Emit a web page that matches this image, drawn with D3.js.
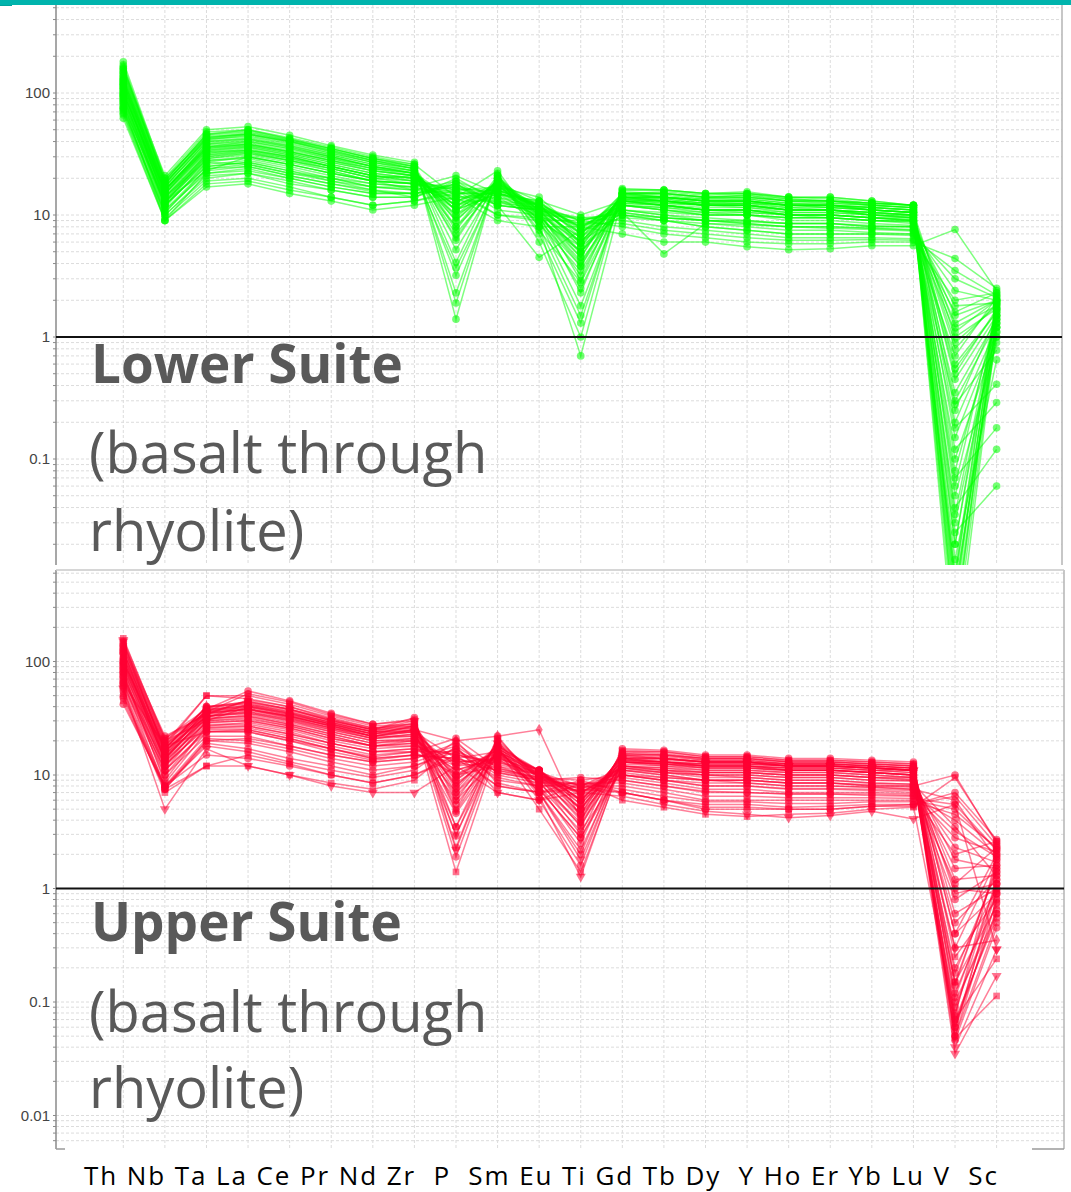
<!DOCTYPE html>
<html>
<head>
<meta charset="utf-8">
<script src="https://cdn.jsdelivr.net/npm/d3@7"></script>
<style>
  html, body { margin: 0; padding: 0; background: #fff; }
  svg { display: block; }
</style>
</head>
<body>
<svg id="chart" width="1071" height="1192"></svg>
<script>
// Element order of the spider diagram (primitive-mantle normalised)
const categories = ["Th","Nb","Ta","La","Ce","Pr","Nd","Zr","P","Sm","Eu","Ti","Gd","Tb","Dy","Y","Ho","Er","Yb","Lu","V","Sc"];

// Lower Suite samples, one row per sample, values in category order
const lowerSuite = [
  [62, 9, 17, 18, 15, 13, 11, 12, 14, 9, 8, 8, 7, 6, 6, 5.5, 5.2, 5.3, 5.6, 5.6, 7.6, 2.4],
  [68, 9.5, 19, 20, 17, 14, 12, 13, 16, 10, 9, 9, 8, 7, 6.5, 6, 5.8, 5.8, 6, 6, 4.4, 2.5],
  [72, 10, 21, 22, 19, 16, 14, 14, 18, 11, 10, 9.5, 9, 8, 7.5, 7, 6.5, 6.5, 6.5, 6.4, 3.5, 2.2],
  [75, 11, 22, 23, 20, 17, 15, 15, 17, 12, 11, 8.5, 10, 9, 8, 7.5, 7, 7, 7, 7, 3.0, 2.1],
  [70, 10.5, 24, 25, 21, 18, 16, 14, 20, 13, 12, 9, 11, 10, 9, 8.5, 8, 7.8, 7.6, 7.4, 2.4, 2.0],
  [80, 12, 25, 27, 23, 19, 17, 16, 19, 14, 12, 8, 12, 11, 10, 10, 9, 9, 8.5, 8.2, 1.8, 1.9],
  [85, 11.5, 27, 26, 22, 20, 18, 17, 21, 15, 13, 10, 13, 12, 11, 11, 10, 9.5, 9, 8.8, 1.5, 2.0],
  [78, 13, 23, 30, 26, 22, 19, 16, 15, 15, 13, 7.5, 14, 13, 12, 12, 11, 11, 10, 9.5, 1.2, 1.8],
  [88, 12.5, 30, 33, 28, 24, 20, 18, 16, 17, 14, 7, 15, 14, 13, 13, 12, 12, 11, 10.5, 1.0, 1.7],
  [92, 14, 28, 29, 25, 21, 18, 17, 14, 14, 11, 6.5, 12, 11, 10, 10, 9.5, 9.5, 9, 9, 0.8, 1.9],
  [95, 13, 32, 35, 30, 25, 21, 19, 13, 16, 12, 6, 13, 12, 11, 11, 10, 10, 9.5, 9.5, 0.6, 1.6],
  [100, 15, 34, 36, 31, 26, 22, 20, 12, 17, 12, 5.5, 14, 13, 12, 12, 11, 11, 10, 10, 0.45, 1.5],
  [105, 14, 30, 32, 28, 24, 20, 21, 11, 15, 11, 5, 12, 11, 10.5, 10, 9.5, 9.5, 9, 8.8, 0.35, 1.4],
  [98, 16, 36, 38, 33, 28, 24, 22, 13, 18, 13, 6.5, 15, 14, 13, 13, 12, 12, 11.5, 11, 0.3, 1.3],
  [110, 15.5, 38, 40, 35, 30, 25, 22, 10, 19, 11, 4.5, 15, 15, 14, 14, 13, 13, 12, 11.5, 0.2, 1.2],
  [115, 17, 40, 42, 37, 31, 26, 23, 9, 19, 10, 4, 14, 14, 13, 13, 12, 12, 11, 10.5, 0.15, 1.1],
  [90, 12, 26, 28, 24, 20, 17, 16, 17, 13, 11, 8, 11, 10, 9.5, 9, 8.5, 8.5, 8, 8, 1.3, 2.0],
  [102, 13.5, 29, 31, 27, 23, 19, 18, 15, 15, 12, 7, 12.5, 12, 11, 11, 10, 10, 9.5, 9.2, 0.9, 1.8],
  [120, 16, 35, 37, 32, 27, 23, 21, 8, 17, 10, 3.8, 13, 13, 12, 12, 11, 11, 10.5, 10, 0.1, 1.0],
  [108, 14.5, 33, 34, 29, 25, 21, 20, 12, 16, 12, 5.8, 13.5, 12.5, 12, 11.5, 11, 11, 10, 9.8, 0.55, 1.6],
  [125, 17.5, 42, 44, 38, 32, 27, 24, 6.2, 20, 11, 2.9, 16, 16, 15, 15, 14, 13.5, 12.5, 12, 0.05, 0.9],
  [130, 18, 44, 46, 40, 34, 28, 25, 4.1, 21, 10, 2.3, 15, 15, 14, 14.5, 13, 13, 12, 11.5, 0.03, 1.2],
  [135, 16, 37, 39, 34, 29, 24, 22, 3.7, 18, 9, 1.8, 14, 14, 13, 13, 12, 12, 11.5, 11, 0.02, 1.5],
  [140, 19, 45, 48, 41, 35, 29, 25, 2.3, 20, 8, 1.5, 15, 15.5, 14.5, 15, 13.5, 13, 12.5, 12, 0.008, 1.1],
  [150, 20, 48, 50, 43, 36, 30, 26, 1.9, 21, 7, 1.3, 16, 16, 15, 15.5, 14, 14, 13, 12, 0.005, 1.4],
  [160, 21, 50, 53, 45, 37, 31, 27, 1.4, 22, 6, 1.0, 16.5, 16, 15, 15, 14, 14, 13, 12, 0.004, 1.7],
  [170, 19, 46, 50, 42, 35, 29, 26, 14, 23, 8, 0.7, 14, 13, 12, 12.5, 11.5, 11.5, 11, 10.5, 0.006, 2.0],
  [180, 20, 43, 47, 41, 34, 28, 24, 5.2, 19, 9, 2.5, 13, 12.5, 12, 12, 11, 11, 10.5, 10, 0.01, 2.2],
  [145, 17, 39, 42, 36, 30, 25, 23, 7, 18, 8.5, 3.5, 12.5, 12, 11, 11, 10.5, 10.5, 10, 9.5, 0.015, 0.65],
  [155, 18.5, 41, 45, 39, 32, 27, 24, 3.2, 19, 7.5, 2.8, 13, 13, 12.5, 13, 12, 12, 11, 10.5, 0.025, 0.06],
  [128, 15, 33, 36, 31, 26, 22, 20, 10, 16, 10, 4.2, 12, 11.5, 11, 11, 10, 10, 9.5, 9, 0.04, 0.12],
  [118, 14, 31, 34, 30, 25, 21, 19, 11, 15, 9.5, 5, 11, 10.5, 10, 10, 9.5, 9.5, 9, 8.5, 0.07, 0.18],
  [112, 13, 28, 30, 26, 22, 19, 18, 12, 14, 9, 5.5, 10, 9.5, 9, 9, 8.5, 8.5, 8, 8, 0.12, 0.29],
  [96, 12, 25, 27, 23, 20, 17, 17, 13, 13, 10, 6, 10.5, 9.5, 9, 8.8, 8.5, 8.5, 8.2, 8, 0.18, 0.41],
  [84, 11, 24, 26, 22, 19, 16, 15, 16, 12, 4.5, 7.5, 9.5, 9, 8.5, 8.3, 8, 8, 7.8, 7.6, 0.28, 0.78],
  [132, 16.5, 36, 40, 35, 29, 25, 22, 9, 18, 11, 4.8, 14.5, 14, 13.5, 13.5, 12.5, 12.5, 12, 11.5, 0.009, 1.0],
  [165, 18, 42, 46, 40, 33, 27, 23, 6.5, 20, 9.5, 3.2, 14, 14, 13, 13.5, 12.5, 12, 11.5, 11, 0.003, 1.3],
  [76, 10, 20, 22, 18, 16, 14, 14, 19, 12, 11, 9.5, 10, 9, 8, 7.5, 7, 7, 7, 6.8, 1.6, 2.3],
  [82, 9, 22, 24, 20, 17, 15, 15, 18, 12.5, 11.5, 9, 10.5, 4.8, 8.5, 8, 7.5, 7.5, 7.2, 7, 0.7, 2.1],
  [122, 15, 35, 38, 33, 28, 24, 21, 11, 18, 12, 6, 14, 13.5, 12.5, 12.5, 12, 11.5, 11, 10.5, 0.012, 1.9],
  [66, 9, 18, 19, 16, 14, 12, 13, 15, 10, 9.5, 8.5, 8.5, 7.5, 7, 6.5, 6.2, 6.2, 6.3, 6.2, 2.0, 2.3],
  [88, 12, 29, 32, 28, 23, 19, 18, 17, 15, 12.5, 8, 13, 12, 11, 10.5, 10, 10, 9.5, 9, 0.5, 1.7],
  [100, 14, 32, 34, 30, 25, 21, 20, 15, 16, 12, 7, 13.5, 13, 12, 12, 11, 11, 10.5, 10, 0.25, 1.5],
  [112, 15, 36, 38, 33, 28, 23, 21, 13, 17, 11.5, 6, 14, 13.5, 12.5, 12.5, 12, 11.5, 11, 10.5, 0.08, 1.4],
  [118, 16, 38, 41, 36, 30, 25, 22, 11, 18, 11, 5.5, 14.5, 14, 13, 13, 12, 12, 11.5, 11, 0.035, 1.6],
  [138, 17, 40, 43, 37, 31, 26, 23, 9.5, 19, 10.5, 5, 15, 14.5, 13.5, 14, 13, 12.5, 12, 11.5, 0.007, 1.8],
  [148, 18, 43, 46, 40, 33, 28, 24, 8, 20, 10, 4.5, 15.5, 15, 14, 14.5, 13.5, 13, 12.5, 12, 0.004, 1.5],
  [158, 19, 46, 49, 42, 35, 29, 25, 7.5, 21, 9, 3.8, 15, 15, 14, 14, 13, 13, 12.5, 12, 0.002, 1.2],
  [106, 13, 27, 30, 26, 22, 19, 18, 14, 15, 12, 7.2, 12, 11.5, 10.5, 10.5, 10, 10, 9.5, 9, 0.011, 1.3],
  [94, 12.5, 31, 33, 29, 24, 20, 19, 16, 16, 12.5, 7.8, 13, 12, 11.5, 11.5, 10.5, 10.5, 10, 9.5, 0.02, 1.9],
  [126, 16, 34, 37, 32, 27, 23, 21, 12, 17, 11, 6.5, 13.5, 13, 12, 12, 11.5, 11, 10.5, 10, 0.06, 1.7],
  [74, 10.5, 23, 25, 21, 18, 15.5, 15, 18, 12, 11, 9, 10.5, 9.5, 9, 8.5, 8, 8, 7.8, 7.5, 1.1, 2.0]
];

// Upper Suite samples, one row per sample, values in category order
const upperSuite = [
  [45, 7.5, 12, 12, 10, 8.5, 7.5, 9, 18, 7, 6, 8.5, 6, 5.2, 4.5, 4.3, 4.5, 4.6, 5, 5.2, 9.5, 2.6],
  [50, 8, 18, 16, 13, 11, 9.5, 11, 20, 8.5, 7, 9, 7, 6, 5, 5, 5, 5, 5.3, 5.5, 6.5, 2.4],
  [55, 7.5, 20, 19, 16, 13, 11, 12, 16, 9.5, 8, 8, 8, 7, 6, 6, 6, 6, 6, 6, 5, 2.2],
  [60, 10, 22, 22, 18, 15, 13, 14, 19, 10.5, 9, 9.5, 9, 8, 7, 7, 6.8, 6.8, 6.6, 6.5, 4, 2.0],
  [65, 11, 25, 25, 21, 17, 14, 15, 14, 11, 9.5, 7.5, 10, 9, 8, 8, 7.5, 7.5, 7.3, 7, 3.2, 1.9],
  [70, 12, 28, 28, 24, 19, 16, 17, 12, 13, 10, 7, 11, 10, 9, 9, 8.5, 8.5, 8, 7.8, 2.3, 1.7],
  [75, 13, 30, 32, 27, 22, 18, 19, 11, 14, 11, 6.5, 12, 11, 10, 10, 9.5, 9.5, 9, 8.8, 1.8, 1.5],
  [80, 14, 33, 35, 30, 24, 20, 21, 10, 15, 11, 6, 13, 12, 11, 11, 10.5, 10.5, 10, 9.5, 1.2, 1.3],
  [85, 15, 36, 38, 32, 26, 22, 22, 9, 16, 11, 5.5, 14, 13, 12, 12, 11, 11, 10.5, 10, 0.9, 1.1],
  [90, 16, 38, 41, 35, 28, 24, 24, 8, 17, 11, 5, 15, 14, 13, 13, 12, 12, 11.5, 11, 0.6, 1.0],
  [95, 17, 40, 44, 38, 30, 25, 26, 7, 18, 11, 4.5, 15.5, 15, 13.5, 13.5, 12.5, 12.5, 12, 11.5, 0.4, 0.9],
  [100, 18, 50, 47, 40, 32, 26, 27, 6, 19, 10, 4, 16, 15.5, 14, 14, 13, 13, 12.5, 12, 0.25, 0.8],
  [110, 19, 50, 50, 42, 33, 27, 28, 5, 20, 9.5, 3.5, 16.5, 16, 14.5, 14.5, 13.5, 13.5, 13, 12.5, 0.15, 0.7],
  [120, 20, 36, 52, 44, 34, 28, 30, 3.5, 21, 9, 3, 17, 16.5, 15, 15, 14, 14, 13.5, 13, 0.1, 0.6],
  [130, 21, 38, 55, 45, 35, 28, 31, 2.9, 22, 8, 2.5, 16, 16, 14.5, 14.5, 13.5, 13.5, 13, 12.5, 0.07, 0.55],
  [140, 22, 34, 46, 40, 31, 25, 32, 2.3, 20, 7, 2, 15, 15, 14, 14, 13, 13, 12.5, 12, 0.05, 0.5],
  [150, 19, 32, 42, 36, 29, 24, 29, 1.9, 18, 6, 1.6, 14, 14, 13, 13, 12.5, 12.5, 12, 11.5, 0.046, 0.45],
  [160, 20, 30, 40, 35, 28, 23, 27, 1.4, 17, 5, 1.4, 13, 13, 12, 12, 11.5, 11.5, 11, 11, 0.048, 0.113],
  [155, 21, 35, 45, 38, 30, 25, 30, 2.2, 19, 6.5, 1.27, 14, 14, 13, 13, 12, 12, 11.5, 11, 0.035, 0.17],
  [58, 5, 17, 12, 10, 8, 7, 7, 12, 7, 6, 7, 6.5, 5.5, 4.8, 4.5, 4.2, 4.4, 4.8, 4.1, 5.5, 0.29],
  [110, 17, 40, 42, 36, 29, 24, 25, 20, 22, 25, 4, 14, 13, 12, 12, 11, 11, 10.5, 10, 0.3, 0.35],
  [42, 8, 15, 14, 12, 10, 8.5, 10, 15, 8, 7, 8, 7, 6, 5.5, 5.5, 5.2, 5.3, 5.5, 5.5, 7, 2.7],
  [48, 7.5, 19, 17, 14, 12, 10, 12, 17, 9, 8, 8.5, 7.5, 6.5, 5.8, 5.8, 5.6, 5.6, 5.8, 5.8, 4.5, 2.3],
  [62, 11, 24, 24, 20, 16, 13.5, 15, 13, 11, 9, 7, 9.5, 8.5, 7.5, 7.5, 7, 7, 7, 6.8, 2.8, 2.1],
  [68, 12, 27, 29, 25, 20, 17, 18, 15, 13, 10.5, 8, 11.5, 10.5, 9.5, 9.5, 9, 9, 8.5, 8.3, 1.5, 1.6],
  [78, 10, 26, 26, 22, 18, 15, 16, 10, 12, 9, 6, 10, 9, 8.5, 8.5, 8, 8, 7.8, 7.5, 0.8, 1.4],
  [88, 14, 34, 37, 32, 26, 21, 22, 8.5, 15, 10, 5, 13, 12.5, 11.5, 11.5, 11, 11, 10.5, 10, 0.5, 1.2],
  [98, 15, 31, 34, 29, 24, 20, 20, 7, 15, 9, 4.5, 12, 11.5, 11, 11, 10.5, 10.5, 10, 9.5, 0.2, 1.0],
  [105, 16, 33, 36, 31, 25, 21, 23, 5.5, 16, 8.5, 3.8, 12.5, 12, 11.5, 11.5, 11, 11, 10.5, 10, 0.12, 0.9],
  [115, 13, 29, 30, 26, 21, 18, 19, 6, 14, 8, 3.2, 11, 10.5, 10, 10, 9.5, 9.5, 9, 9, 0.09, 0.75],
  [125, 14, 31, 33, 28, 23, 19, 21, 4.6, 15, 7.5, 2.8, 11.5, 11, 10.5, 10.5, 10, 10, 9.5, 9.5, 0.06, 0.65],
  [135, 17, 37, 39, 33, 27, 22, 25, 3.5, 17, 7, 2.2, 13, 12.5, 12, 12, 11.5, 11.5, 11, 10.5, 0.055, 1.1],
  [72, 12.5, 26, 27, 23, 19, 16, 16, 16, 12, 10, 8, 10.5, 9.5, 9, 8.5, 8, 8, 7.8, 7.5, 6, 1.8],
  [82, 13.5, 29, 30, 26, 21, 18, 18, 13, 13.5, 10, 7, 11.5, 10.5, 10, 9.5, 9, 9, 8.5, 8.3, 3.5, 1.3],
  [92, 14.5, 32, 33, 28, 23, 19, 20, 11, 14.5, 10, 6.2, 12, 11, 10.5, 10.5, 10, 10, 9.5, 9, 1.0, 0.9],
  [52, 7, 12, 15, 12.5, 10, 8.5, 10, 14, 8, 7, 7.5, 7, 6, 5.2, 5.2, 5, 5, 5.3, 5.3, 0.07, 0.24],
  [150, 16, 35, 38, 33, 27, 23, 24, 3, 17, 7, 1.8, 13.5, 13, 12.5, 12.5, 12, 12, 11.5, 11, 0.04, 0.29],
  [64, 18, 24, 25, 21, 17, 14.5, 16, 21, 11.5, 9.5, 9, 10, 9.5, 9, 9, 8.5, 8.5, 8, 8, 10, 2.5],
  [100, 16, 35, 38, 33, 27, 22, 24, 14, 16, 11, 6, 14, 13.5, 13, 13, 12, 12, 11.5, 11, 0.4, 2.0],
  [118, 18, 39, 43, 37, 30, 25, 27, 9, 18, 10.5, 5, 15, 14.5, 13.5, 13.5, 12.5, 12.5, 12, 11.5, 0.14, 1.6],
  [58, 8, 21, 20, 17, 14, 12, 13, 17, 10, 8.5, 8.5, 8.5, 7.5, 6.5, 6.5, 6.3, 6.3, 6.3, 6.2, 5.5, 2.2],
  [74, 9, 27, 27, 23, 19, 16, 17, 15, 12.5, 10, 7.5, 11, 10, 9, 9, 8.5, 8.5, 8.2, 8, 0.3, 1.8],
  [86, 11, 30, 31, 27, 22, 18, 20, 13, 14, 10.5, 6.8, 12, 11.5, 10.5, 10.5, 10, 10, 9.5, 9.2, 0.15, 1.5],
  [96, 12, 33, 35, 30, 25, 21, 23, 12, 15.5, 10.5, 6, 13, 12.5, 11.5, 11.5, 11, 11, 10.5, 10, 0.08, 1.2],
  [108, 13.5, 35, 38, 33, 27, 22, 25, 10, 16.5, 10, 5.2, 13.5, 13, 12.5, 12.5, 12, 12, 11.5, 11, 0.06, 0.95],
  [122, 15, 37, 41, 35, 29, 24, 26, 8, 17.5, 9.5, 4.2, 14.5, 14, 13, 13, 12.5, 12.5, 12, 11.5, 0.05, 0.8],
  [138, 16.5, 33, 36, 31, 26, 22, 24, 6.5, 16, 8.5, 3.6, 13, 12.5, 12, 12, 11.5, 11.5, 11, 10.5, 0.065, 0.6],
  [145, 18, 36, 40, 34, 28, 23, 27, 4.8, 17, 7.5, 2.8, 13.5, 13, 12.5, 12.5, 12, 12, 11.5, 11, 0.075, 1.9],
  [66, 7.8, 20, 21, 18, 15, 13, 14, 18, 10.5, 9, 8.2, 9, 8, 7.2, 7, 6.8, 6.8, 6.8, 6.6, 2.0, 2.6],
  [80, 8.5, 24, 24, 20, 17, 14, 15, 14, 11.5, 9.2, 7.2, 10, 9, 8, 8, 7.6, 7.6, 7.5, 7.3, 1.1, 2.3],
  [102, 14, 38, 40, 34, 28, 23, 25, 9.5, 17, 11, 5.5, 14.5, 14, 13, 13, 12, 12, 11.5, 11, 0.18, 1.4],
  [128, 17, 40, 44, 38, 31, 26, 28, 7.5, 18.5, 10, 4.6, 15.5, 15, 14, 14, 13, 13, 12.5, 12, 0.11, 1.1]
];

// Marker shape of each Upper Suite sample (same order as upperSuite)
const upperMarkers = [
  "square","circle","circle","circle","circle","circle","circle","circle","circle","circle",
  "circle","square","square","circle","circle","circle","circle","square","triangle","triangle",
  "diamond","circle","circle","circle","circle","circle","circle","circle","circle","circle",
  "circle","circle","circle","circle","circle","square","triangle","circle","circle","circle",
  "circle","circle","circle","circle","circle","circle","circle","circle","circle","circle",
  "circle","circle"
];

const lowerTickValues = [100, 10, 1, 0.1];
const upperTickValues = [100, 10, 1, 0.1, 0.01];
const tickLabels = {100: "100", 10: "10", 1: "1", 0.1: "0.1", 0.01: "0.01"};
const lowerTitle = ["Lower Suite", "(basalt through", "rhyolite)"];
const upperTitle = ["Upper Suite", "(basalt through", "rhyolite)"];

const svg = d3.select("#chart");
const gridColor = "#dcdcdc";

const x = d3.scalePoint().domain(categories).range([123.3, 996.6]);

const symbolTypes = {
  circle: d3.symbolCircle,
  square: d3.symbolSquare,
  diamond: d3.symbolDiamond,
  triangle: d3.symbolTriangle
};

function drawPanel(cfg) {
  const { id, left, right, top, bottom, y, data, color, markers, ticks, title, titleY, drawTopBorder } = cfg;
  const g = svg.append("g").attr("class", id);

  // horizontal grid: every 1..9 multiple of each decade
  const gridVals = [];
  for (let e = -3; e <= 3; e++) {
    for (let k = 1; k <= 9; k++) gridVals.push(k * Math.pow(10, e));
  }
  const visible = gridVals.filter(v => y(v) >= top + 1 && y(v) <= bottom - 1);
  g.append("g").selectAll("line").data(visible).join("line")
    .attr("x1", left).attr("x2", right)
    .attr("y1", d => y(d)).attr("y2", d => y(d))
    .attr("stroke", gridColor).attr("stroke-width", 1)
    .attr("stroke-dasharray", "3,2");
  // small ticks on the left axis
  g.append("g").selectAll("line").data(visible).join("line")
    .attr("x1", left - 3).attr("x2", left)
    .attr("y1", d => y(d)).attr("y2", d => y(d))
    .attr("stroke", "#8a8a8a").attr("stroke-width", 1);

  // vertical grid at each element
  g.append("g").selectAll("line").data(categories).join("line")
    .attr("x1", d => x(d)).attr("x2", d => x(d))
    .attr("y1", top).attr("y2", bottom)
    .attr("stroke", gridColor).attr("stroke-width", 1)
    .attr("stroke-dasharray", "3,2");

  // frame
  g.append("line").attr("x1", left).attr("x2", left).attr("y1", top).attr("y2", bottom)
    .attr("stroke", "#8a8a8a").attr("stroke-width", 1.5);
  g.append("line").attr("x1", right).attr("x2", right).attr("y1", top).attr("y2", bottom)
    .attr("stroke", "#b5b5b5").attr("stroke-width", 1.5);
  if (drawTopBorder) {
    g.append("line").attr("x1", left).attr("x2", right).attr("y1", top).attr("y2", top)
      .attr("stroke", "#c8c8c8").attr("stroke-width", 1.5);
  }

  // y tick labels
  g.append("g").selectAll("text").data(ticks).join("text")
    .attr("x", left - 6).attr("y", d => y(d)).attr("dy", "0.35em")
    .attr("text-anchor", "end")
    .style("font-family", "'Liberation Sans', Arial, sans-serif")
    .style("font-size", "15px").attr("fill", "#444")
    .text(d => tickLabels[d]);

  // clip region for the sample profiles
  const clipId = id + "-clip";
  svg.append("clipPath").attr("id", clipId).append("rect")
    .attr("x", left).attr("y", top).attr("width", right - left).attr("height", bottom - top);

  const plot = g.append("g").attr("clip-path", `url(#${clipId})`);
  const line = d3.line().x((d, i) => x(categories[i])).y(d => y(d));

  plot.append("g").selectAll("path").data(data).join("path")
    .attr("d", line)
    .attr("fill", "none").attr("stroke", color)
    .attr("stroke-width", 1.5).attr("stroke-opacity", 0.5);

  const pts = [];
  data.forEach((row, s) => row.forEach((v, i) => pts.push({ s, i, v })));
  plot.append("g").selectAll("path").data(pts).join("path")
    .attr("transform", d => {
      const shape = markers ? markers[d.s] : "circle";
      const rot = shape === "triangle" ? " rotate(180)" : "";
      return `translate(${x(categories[d.i])},${y(d.v)})${rot}`;
    })
    .attr("d", d => {
      const shape = markers ? markers[d.s] : "circle";
      const size = shape === "circle" ? 46 : 44;
      return d3.symbol().type(symbolTypes[shape]).size(size)();
    })
    .attr("fill", color).attr("fill-opacity", 0.55);

  // reference line at unity
  g.append("line").attr("x1", left).attr("x2", right)
    .attr("y1", y(1)).attr("y2", y(1))
    .attr("stroke", "#111").attr("stroke-width", 2);

  // suite caption
  g.append("text").attr("x", 91).attr("y", titleY[0])
    .style("font-family", "'Open Sans', 'Noto Sans', sans-serif")
    .style("font-weight", "700").style("font-size", "53px")
    .attr("fill", "#595959").text(title[0]);
  [1, 2].forEach(k => {
    g.append("text").attr("x", 89).attr("y", titleY[k])
      .style("font-family", "'Open Sans', 'Noto Sans', sans-serif")
      .style("font-size", "56px")
      .attr("fill", "#595959").text(title[k]);
  });
}

// Lower Suite panel
drawPanel({
  id: "lower", left: 56, right: 1062, top: 0, bottom: 565,
  y: d3.scaleLog().domain([0.01, 1000]).range([581, -29]),
  data: lowerSuite, color: "#00ff00", markers: null,
  ticks: lowerTickValues, title: lowerTitle, titleY: [383, 473, 551],
  drawTopBorder: false
});

// Upper Suite panel
drawPanel({
  id: "upper", left: 56, right: 1064, top: 570, bottom: 1149,
  y: d3.scaleLog().domain([0.001, 1000]).range([1229, 548]),
  data: upperSuite, color: "#ff0033", markers: upperMarkers,
  ticks: upperTickValues, title: upperTitle, titleY: [941, 1032, 1108],
  drawTopBorder: true
});

// lower axis: only the corner stubs show
svg.append("line").attr("x1", 56).attr("x2", 65).attr("y1", 1149).attr("y2", 1149)
  .attr("stroke", "#9a9a9a").attr("stroke-width", 1.5);
svg.append("line").attr("x1", 1032).attr("x2", 1064).attr("y1", 1149).attr("y2", 1149)
  .attr("stroke", "#9a9a9a").attr("stroke-width", 1.5);

// element labels along the bottom, typed as one line
const labelLine = categories.join(" ")
  .replace(" P ", "  P  ")
  .replace(" Y ", "  Y ")
  .replace(" V ", " V  ");
svg.append("text")
  .attr("x", 84).attr("y", 1185)
  .attr("textLength", 913).attr("lengthAdjust", "spacing")
  .style("white-space", "pre")
  .style("font-family", "'Open Sans', 'Noto Sans', sans-serif")
  .style("font-size", "26px").attr("fill", "#000")
  .text(labelLine);

// header band
svg.append("rect").attr("x", 0).attr("y", 0).attr("width", 1071).attr("height", 5).attr("fill", "#00b4ad");
svg.append("rect").attr("x", 0).attr("y", 5).attr("width", 12).attr("height", 1).attr("fill", "#00a49d");
</script>
</body>
</html>
